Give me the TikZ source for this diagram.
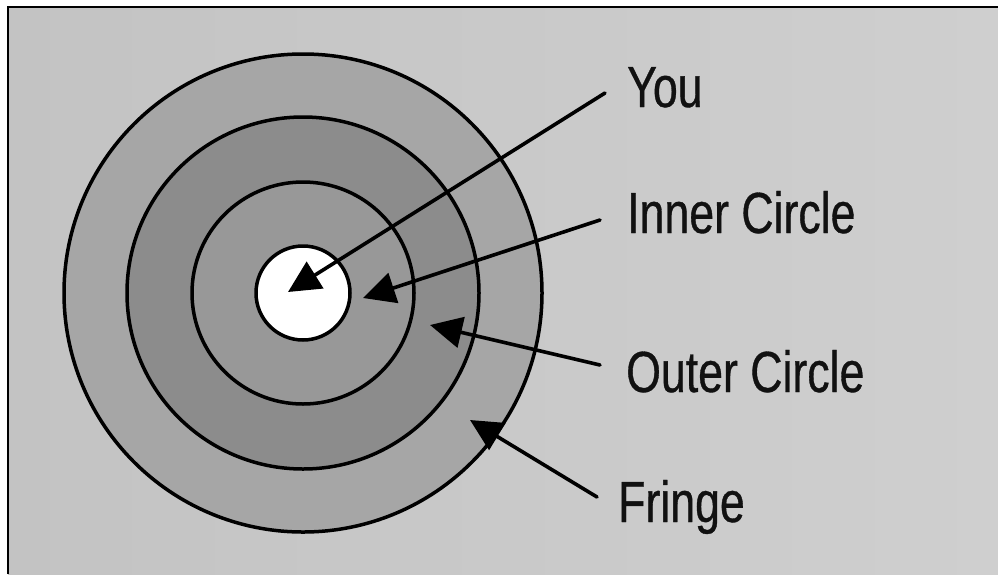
\documentclass[tikz,border=0pt]{standalone}
\usepackage{fontspec}
\newfontfamily\labfont{Liberation Sans}[FakeStretch=0.77,FakeBold=0.6]
\usetikzlibrary{arrows.meta}
\definecolor{bgL}{HTML}{C3C3C3}
\definecolor{bgR}{HTML}{CFCFCF}
\definecolor{fringeC}{HTML}{A6A6A6}
\definecolor{outerC}{HTML}{8C8C8C}
\definecolor{innerC}{HTML}{989898}
\definecolor{inkC}{HTML}{111111}
\tikzset{
  ring/.style={draw=black, line width=3.5pt},
  pointer/.style={draw=black, line width=3.6pt, line cap=round,
    -{Triangle[length=32pt,width=31pt]}},
  lab/.style={inner sep=0pt, anchor=base west, text=inkC,
    font=\labfont\fontsize{58}{60}\selectfont}
}
\begin{document}
\begin{tikzpicture}[x=1pt,y=-1pt]
\useasboundingbox (0,0) rectangle (998,574);
\fill[white] (0,0) rectangle (998,574);
\shade[left color=bgL, right color=bgR] (8,7) rectangle (998,574);
\draw[line width=2pt] (8,574) -- (8,7) -- (998,7);

\coordinate (c) at (303,293);
\fill[fringeC] (c) circle[radius=239pt];
\draw[ring] (c) circle[radius=239pt];
\fill[outerC] (c) circle[radius=176pt];
\draw[ring] (c) circle[radius=176pt];
\fill[innerC] (c) circle[radius=111pt];
\draw[ring] (c) circle[radius=111pt];
\fill[white] (c) circle[radius=47pt];
\draw[ring] (c) circle[radius=47pt];

\node[lab] (you) at (627,107) {You};
\node[lab] (inner) at (627,233) {Inner Circle};
\node[lab] (outer) at (626,392) {Outer Circle};
\node[lab] (fringe) at (618,522) {Fringe};

\coordinate (s1) at (605,93);   \coordinate (t1) at (288,292);
\coordinate (s2) at (600,220);  \coordinate (t2) at (363,298);
\coordinate (s3) at (600,365);  \coordinate (t3) at (430,325);
\coordinate (s4) at (597,497);  \coordinate (t4) at (470,420);

\draw[pointer] (s1) -- (t1);
\draw[pointer] (s2) -- (t2);
\draw[pointer] (s3) -- (t3);
\draw[pointer] (s4) -- (t4);
\end{tikzpicture}
\end{document}
